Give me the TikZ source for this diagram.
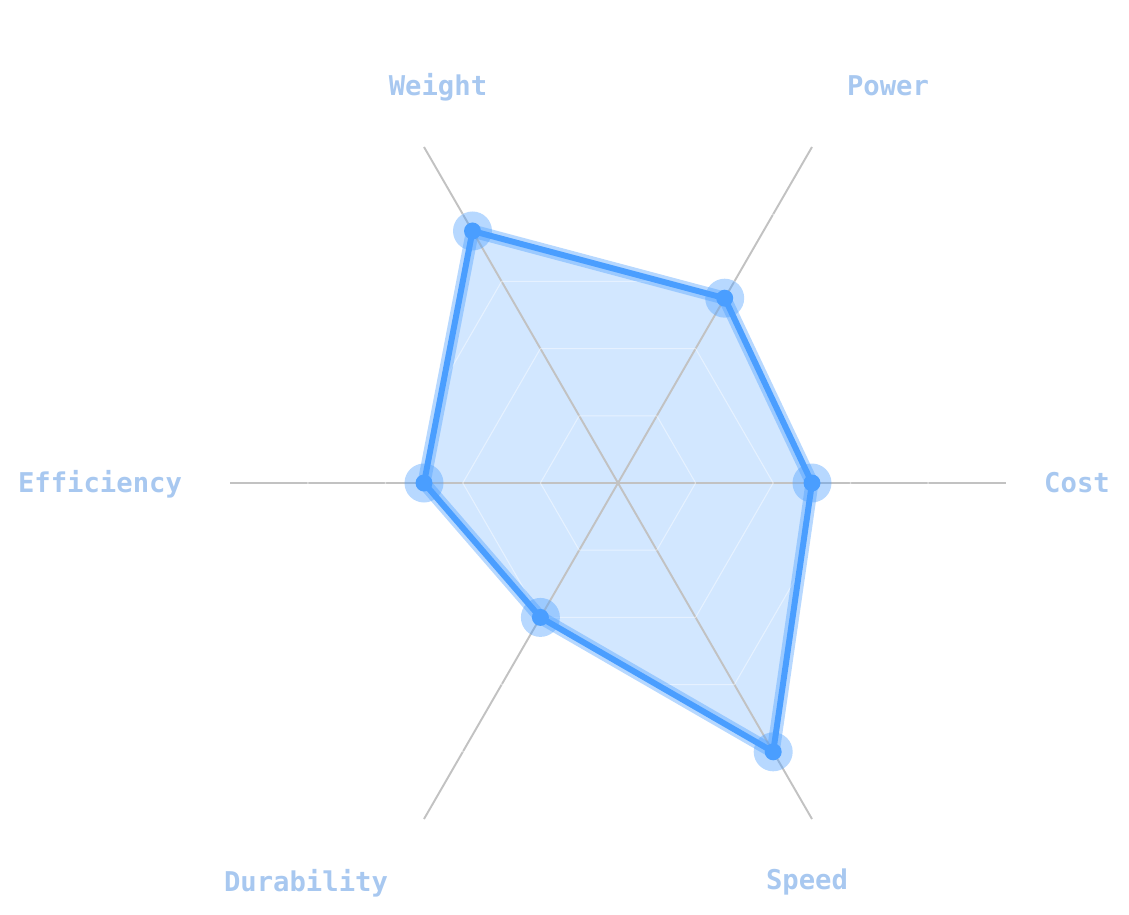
\documentclass[tikz,border=0pt]{standalone}
\usepackage{fontspec}
\setmonofont{DejaVu Sans Mono}
\definecolor{linecol}{HTML}{4A9EFF}
\definecolor{axiscol}{HTML}{C2C2C2}
\definecolor{labcol}{HTML}{A8C8F0}
\tikzset{
  axisline/.style={draw=axiscol, line width=1.1pt},
  ringline/.style={draw=white, draw opacity=0.45, line width=0.6pt},
  axislabel/.style={text=labcol, font=\ttfamily\bfseries\fontsize{15.5}{18}\selectfont, inner sep=0pt}
}
\begin{document}
\begin{tikzpicture}[x=0.02cm,y=0.02cm]
\useasboundingbox (-618,-431) rectangle (511,483);
\coordinate (O) at (0,0);
% axis ends and data points
\foreach \a/\n/\v in {0/cost/0.5,60/power/0.55,120/weight/0.75,180/efficiency/0.5,240/durability/0.4,300/speed/0.8}{
	\coordinate (\n) at (\a:388);
	\coordinate (p-\n) at (\a:388*\v);
}
\fill[linecol, fill opacity=0.25] (p-cost) -- (p-power) -- (p-weight) -- (p-efficiency) -- (p-durability) -- (p-speed) -- cycle;
\foreach \n in {cost,power,weight,efficiency,durability,speed}
	\draw[axisline] (O) -- (\n);
\foreach \r in {77.6,155.2,232.8,310.4}
	\draw[ringline] (0:\r) -- (60:\r) -- (120:\r) -- (180:\r) -- (240:\r) -- (300:\r) -- cycle;
\draw[linecol, draw opacity=0.4, line width=7.4pt, line join=round] (p-cost) -- (p-power) -- (p-weight) -- (p-efficiency) -- (p-durability) -- (p-speed) -- cycle;
\draw[linecol, line width=3.4pt, line join=round] (p-cost) -- (p-power) -- (p-weight) -- (p-efficiency) -- (p-durability) -- (p-speed) -- cycle;
\foreach \n in {cost,power,weight,efficiency,durability,speed}{
	\fill[linecol, fill opacity=0.4] (p-\n) circle (0.39cm);
	\fill[linecol] (p-\n) circle (0.17cm);
}
% labels
\node[axislabel] (l-weight) at (-180,396) {Weight};
\node[axislabel] (l-power) at (270,397) {Power};
\node[axislabel] (l-cost) at (459,0.5) {Cost};
\node[axislabel] (l-speed) at (189,-399) {Speed};
\node[axislabel] (l-durability) at (-312,-400) {Durability};
\node[axislabel] (l-efficiency) at (-518,-1.5) {Efficiency};
\end{tikzpicture}
\end{document}
